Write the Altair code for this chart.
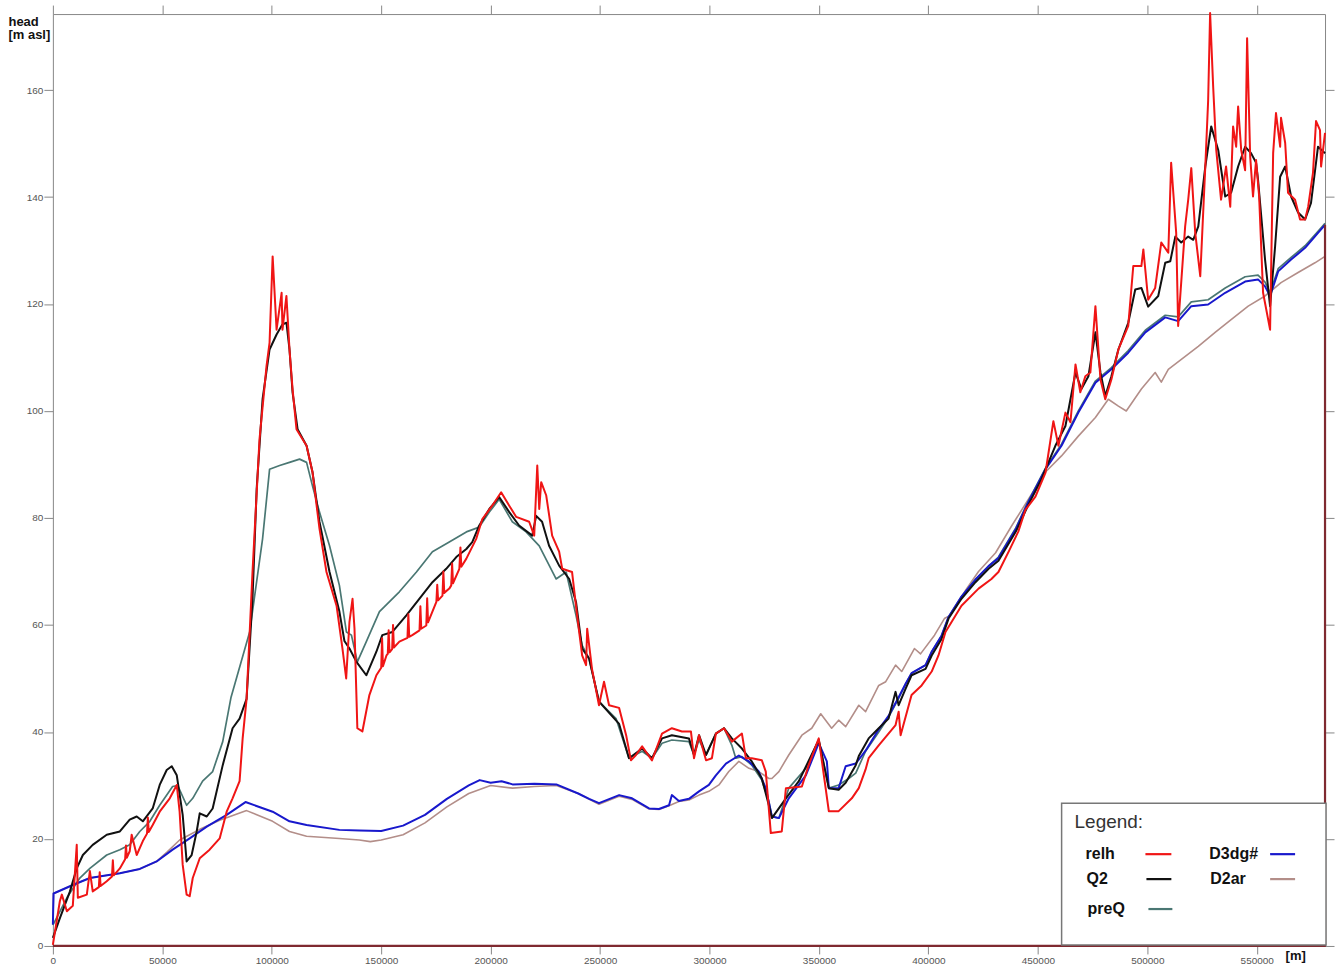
import altair as alt
import pandas as pd

# ---------------- data ----------------
X_TICKS = [0, 50000, 100000, 150000, 200000, 250000, 300000, 350000, 400000, 450000, 500000, 550000]
Y_TICKS = [0, 20, 40, 60, 80, 100, 120, 140, 160]
X_MAX = 581200
Y_MAX = 174.2

RELH_X = [0, 3200, 4100, 6400, 9100, 10900, 11400, 15500, 16900, 18200, 21000, 21400, 21800, 24600, 27000, 27400,
          27800, 30600, 33000, 33400, 33800, 35100, 36000, 38300, 41100, 43000, 43400, 43800, 45600, 48800, 53400,
          56600, 57900, 59300, 61100, 62500, 63900, 67100, 71600, 76200, 79400, 82100, 85300, 86700, 88500, 91200,
          94400, 97600, 99000, 100400, 102200, 104500, 104900, 106700, 108100, 109500, 111300, 115900, 118600,
          121800, 125000, 129600, 132300, 134000, 135500, 136900, 137800, 139100, 141400, 144600, 147800, 150000,
          150400, 150800, 152400, 153000, 153400, 153800, 155000, 155400, 155800, 158300, 162000, 162400, 162800,
          164200, 167500, 167900, 168300, 170600, 171000, 171400, 175200, 175600, 176000, 178000, 178400, 178800,
          181100, 182000, 182400, 182800, 185700, 186200, 186600, 188900, 193400, 196200, 200700, 204800,
          208500, 211700, 217600, 219900, 221300, 222200, 223100, 225400, 228100, 231300, 232700, 237200, 239500,
          241800, 243600, 244100, 246300, 249500, 251800, 254100, 258700, 261900, 264100, 266400, 269200, 273700,
          278300, 282800, 287400, 291500, 292900, 295200, 298400, 301100, 302900, 306600, 310200, 314800, 316600,
          319300, 323900, 325700, 328000, 333000, 334900, 342200, 345300, 349900, 354500, 359000, 365000, 368200,
          371300, 372700, 377300, 385000, 386400, 387300, 392300, 396900, 401500, 404600, 407800, 415100, 422900,
          428800, 432000, 437000, 441100, 444300, 448900, 453500, 457100, 459400, 462600, 464900, 467200, 469400,
          471700, 474000, 476300, 478600, 480800, 483600, 486800, 491300, 493600, 497300, 498200, 500400, 503600,
          506400, 509600, 510900, 513200, 514100, 517300, 518700, 520100, 521900, 524200, 526500, 527800, 528700,
          530100, 531500, 533700, 536000, 537900, 539200, 540600, 541500, 542900, 544700, 545600, 547000, 548300,
          549700, 551100, 552900, 556100, 557500, 558800, 560700, 561100, 563000, 564300, 567500, 569800, 572100,
          573500, 575700, 577100, 578900, 579400, 581200]
RELH_Y = [0.2, 8.4, 9.6, 6.5, 7.5, 18.9, 9.0, 9.6, 14.0, 10.2, 11.0, 13.8, 11.2, 12.1, 13.0, 16.0,
          13.2, 14.5, 16.2, 18.8, 16.5, 17.7, 20.8, 17.0, 19.6, 21.0, 24.0, 21.3, 22.6, 25.1, 27.6,
          30.1, 25.1, 15.2, 9.6, 9.3, 12.7, 16.4, 18.0, 20.1, 25.1, 27.6, 30.8, 38.8, 46.2, 69.9,
          94.7, 108.4, 112.8, 128.9, 115.2, 122.1, 115.2, 121.5, 111.5, 104.1, 96.6, 93.5, 88.6,
          78.0, 69.9, 63.6, 55.6, 50.0, 60.6, 64.9, 59.3, 40.7, 40.1, 46.9, 50.6, 52.0,
          57.5, 52.3, 54.3, 54.6, 59.0, 54.9, 55.5, 60.0, 55.8, 56.9, 57.6, 62.0, 57.8,
          58.1, 59.0, 63.5, 59.3, 59.9, 65.0, 60.5, 64.3, 67.5, 64.6, 65.5, 70.0, 66.0,
          66.8, 67.4, 71.5, 67.8, 70.5, 74.5, 70.9, 72.4, 76.1, 79.8, 82.3, 84.8,
          82.3, 80.2, 79.3, 76.7, 89.8, 81.7, 86.7, 84.2, 76.7, 73.7, 70.5, 69.9, 61.8,
          54.3, 52.5, 59.3, 51.8, 45.0, 49.4, 45.0, 44.5, 39.4, 34.7, 35.7, 37.3, 34.7,
          39.7, 40.7, 40.1, 40.1, 35.1, 39.4, 34.7, 35.1, 39.7, 40.7, 38.2, 39.7, 35.1,
          35.1, 34.7, 32.6, 21.1, 21.4, 29.5, 29.8, 33.8, 38.8, 25.2, 25.2, 27.6, 29.5,
          33.0, 35.1, 37.5, 41.3, 43.8, 39.4, 46.9, 48.7, 51.3, 54.3, 58.7, 63.6, 66.8,
          68.6, 69.9, 74.0, 77.5, 81.5, 84.0, 88.5, 98.1, 93.5, 99.7, 97.9, 108.7, 103.5,
          106.5, 107.2, 119.6, 105.9, 102.2, 105.9, 111.5, 115.9, 127.1, 127.1, 130.2, 120.8, 123.0,
          131.5, 129.6, 146.4, 133.3, 115.9, 134.5, 139.5, 145.4, 133.3, 125.2, 145.7, 158.0, 174.4,
          160.6, 148.8, 139.5, 145.7, 138.2, 153.2, 149.4, 156.9, 148.8, 145.0, 169.7, 147.6, 140.1,
          146.9, 140.1, 122.1, 115.2, 148.2, 155.7, 149.4, 154.8, 150.1, 140.8, 139.5, 135.8, 135.8,
          138.2, 144.5, 154.2, 152.5, 145.7, 152.0]

Q2_X = [0, 3200, 7800, 10900, 13700, 18200, 24600, 30600, 35100, 38300, 41100, 45600, 48800, 52000, 54300,
        56600, 59300, 61100, 63400, 65700, 67100, 70300, 73000, 77600, 82100, 85300, 88500, 91200, 93100,
        95800, 99000, 102200, 104900, 106700, 108100, 109500, 111800, 115900, 118600, 121800, 126400, 130900,
        133200, 135500, 138700, 143200, 147800, 150500, 155100, 161500, 167400, 173400, 179700, 184300, 188900,
        191600, 194800, 199400, 203900, 208500, 213000, 219000, 220800, 223500, 226700, 231300, 235900, 239000,
        241800, 245000, 249500, 258700, 263200, 269200, 273700, 278300, 282800, 290600, 292900, 295200, 298400,
        302900, 306600, 310200, 314800, 319300, 323900, 327100, 328500, 334900, 340800, 349900, 354500, 359000,
        362200, 366800, 368200, 372700, 377300, 381800, 385000, 386400, 389600, 392300, 398700, 401500, 406000,
        409200, 415100, 421500, 427500, 432000, 440000, 445700, 451600, 458000, 462600, 467200, 469900, 473100,
        476300, 478600, 480800, 483600, 486800, 491300, 494500, 497300, 500400, 505000, 508200, 510500, 512800,
        515500, 518700, 521000, 523300, 526500, 529200, 532400, 535600, 538300, 541500, 544700, 547400, 549700,
        550600, 553800, 556100, 558400, 560700, 563000, 565700, 568900, 572100, 574800, 578000, 581200]
Q2_Y = [1.5, 5.2, 10.2, 14.5, 17.0, 18.9, 20.8, 21.4, 23.6, 24.2, 23.3, 25.7, 30.1, 32.9, 33.6,
        31.9, 24.5, 15.8, 17.0, 21.4, 24.8, 24.2, 25.7, 33.8, 40.7, 42.5, 46.2, 64.9, 85.4,
        102.2, 111.5, 114.3, 116.2, 116.5, 111.5, 103.5, 96.6, 93.5, 88.6, 79.3, 69.9, 62.5,
        57.0, 55.6, 53.1, 50.6, 55.0, 58.1, 58.7, 61.8, 64.9, 68.0, 70.5, 72.7, 74.2,
        75.5, 78.6, 81.7, 83.9, 81.1, 78.6, 76.7, 80.4, 79.3, 74.8, 71.1, 68.6, 64.3,
        55.6, 53.7, 45.7, 41.5, 35.1, 36.9, 35.1, 38.8, 39.4, 38.8, 35.7, 39.4, 35.7,
        39.7, 40.7, 38.8, 36.9, 34.5, 31.3, 26.3, 23.9, 27.6, 30.8, 38.5, 29.5, 29.2,
        30.5, 33.8, 35.5, 38.8, 40.7, 42.5, 47.5, 45.0, 48.1, 50.6, 51.8, 54.3, 57.4,
        61.2, 64.9, 68.0, 70.5, 72.0, 77.5, 82.5, 87.2, 93.5, 97.2, 107.2, 104.1, 106.5,
        114.7, 107.2, 102.8, 106.5, 111.5, 116.5, 122.7, 123.0, 119.5, 121.5, 127.7, 128.0, 132.6,
        131.5, 132.6, 132.0, 134.5, 145.7, 153.2, 148.8, 140.1, 140.8, 145.7, 149.4, 148.2, 146.4,
        143.2, 128.3, 119.6, 130.8, 143.8, 145.7, 140.1, 137.1, 135.8, 138.9, 149.4, 148.2]

PREQ_X = [0, 6400, 12300, 16900, 24600, 30600, 35100, 39700, 44300, 48800, 54700, 57000, 61100, 63900, 68400,
          73000, 77600, 81400, 89900, 95800, 99000, 103600, 108100, 112700, 115900, 118600, 121800, 126400,
          130900, 134100, 136400, 139100, 143200, 149200, 158300, 166100, 173400, 181100, 188900, 194800, 199400,
          203900, 209900, 216200, 222200, 229900, 234500, 239000, 241800, 245000, 249500, 257300, 263200, 269200,
          273700, 278300, 282800, 290600, 292900, 295200, 298400, 302900, 306600, 310200, 312000, 314800, 319300,
          323900, 327100, 328500, 331700, 336200, 344000, 349900, 354500, 359000, 363600, 366800, 371300, 377300,
          381800, 386400, 389600, 392300, 398700, 401500, 406000, 409200, 415100, 421500, 427500, 432000, 440000,
          445700, 453500, 460800, 468500, 476300, 483600, 491300, 499100, 508200, 514100, 520100, 527800, 535600,
          544700, 550600, 553800, 556100, 559800, 565700, 572100, 578000, 581200]
PREQ_Y = [3.9, 9.0, 12.7, 14.5, 17.0, 18.0, 18.9, 21.4, 23.3, 26.3, 29.8, 30.0, 26.3, 27.6, 30.8,
          32.6, 38.2, 46.5, 58.7, 76.1, 89.1, 89.8, 90.4, 91.0, 90.4, 86.0, 81.1, 74.8,
          67.4, 58.7, 58.1, 53.1, 56.9, 62.5, 66.2, 69.9, 73.7, 75.5, 77.4, 78.3, 81.1,
          83.5, 79.3, 77.4, 74.8, 68.6, 69.9, 61.8, 56.2, 53.7, 45.7, 42.5, 35.1, 36.4,
          35.1, 37.9, 38.5, 38.2, 35.7, 38.5, 35.7, 39.7, 40.7, 37.5, 35.1, 35.4, 33.8,
          31.0, 27.0, 24.2, 23.9, 29.5, 33.2, 38.5, 29.5, 30.1, 31.3, 32.3, 36.4, 40.0,
          42.8, 46.3, 49.0, 51.0, 52.5, 55.0, 58.0, 61.5, 65.3, 68.5, 71.0, 72.7, 78.2,
          83.2, 89.3, 93.8, 100.0, 105.6, 108.1, 111.3, 115.1, 117.9, 117.6, 120.4, 120.8, 123.0,
          125.1, 125.4, 124.1, 122.1, 126.6, 128.7, 130.9, 133.6, 135.1]

D3DG_X = [0, 300, 9100, 16900, 30600, 39700, 47400, 54700, 62500, 70300, 79400, 88000, 100400, 108100, 115900,
          130900, 140000, 150000, 160000, 170000, 180000, 190000, 195000, 200000, 205000, 210000, 220000, 230000,
          240000, 245000, 249500, 258700, 264600, 272400, 276900, 281500, 282800, 286000, 290600, 295200, 299700,
          302900, 307500, 313400, 318000, 322500, 325700, 328500, 331700, 336200, 344000, 349900, 353600, 354500,
          359000, 362200, 366800, 371300, 377300, 381800, 386400, 389600, 392300, 398700, 401500, 406000, 409200,
          415100, 421500, 427500, 432000, 440000, 445700, 453500, 460800, 468500, 476300, 483600, 491300, 499100,
          508200, 514100, 520100, 527800, 535600, 544700, 550600, 553800, 556100, 559800, 565700, 572100, 578000,
          581200]
D3DG_Y = [4.0, 9.8, 11.4, 12.7, 13.6, 14.4, 15.8, 18.0, 20.1, 22.3, 24.5, 26.9, 25.1, 23.3, 22.6,
          21.7, 21.6, 21.5, 22.5, 24.5, 27.5, 30.0, 31.0, 30.5, 30.8, 30.2, 30.3, 30.2,
          28.5, 27.5, 26.7, 28.2, 27.6, 25.7, 25.6, 26.3, 28.2, 27.1, 27.5, 28.9, 30.1,
          31.9, 34.1, 35.6, 34.5, 32.6, 29.5, 24.2, 23.9, 27.6, 31.9, 37.9, 34.5, 29.5,
          29.5, 33.6, 34.1, 36.5, 40.5, 43.0, 46.5, 49.0, 51.0, 52.5, 55.0, 58.0, 61.5,
          65.3, 68.5, 71.0, 72.5, 78.0, 83.0, 89.1, 93.5, 99.7, 105.3, 107.8, 110.9, 114.7,
          117.5, 116.8, 119.6, 119.9, 122.1, 124.2, 124.6, 123.3, 121.5, 126.1, 128.3, 130.5, 133.3,
          134.8]

D2AR_X = [0, 300, 9100, 16900, 30600, 39700, 47400, 52000, 57900, 62500, 67100, 76200, 88500, 100400, 108100,
          115900, 130900, 140000, 145000, 150000, 160000, 170000, 180000, 190000, 200000, 210000, 220000, 230000,
          240000, 249500, 258700, 264600, 272400, 276900, 281500, 286000, 290600, 295200, 299700, 304300, 308800,
          313400, 318000, 322500, 327100, 328500, 331700, 336200, 342200, 346700, 350800, 355800, 359000, 362200,
          368200, 371300, 377300, 380500, 385000, 387800, 393600, 396400, 402800, 407300, 410000, 417000, 422900,
          430700, 438000, 445700, 453500, 460800, 468500, 476300, 482200, 486800, 490400, 497300, 503600, 506400,
          509600, 523300, 531000, 538300, 546100, 553800, 561100, 568900, 576600, 581200]
D2AR_Y = [4.0, 9.8, 11.4, 12.7, 13.6, 14.4, 15.8, 17.5, 19.8, 20.8, 21.8, 23.5, 25.3, 23.3, 21.4,
          20.5, 20.1, 19.8, 19.5, 19.8, 20.8, 23.0, 26.0, 28.5, 30.0, 29.5, 29.8, 30.0,
          28.5, 26.5, 28.0, 27.4, 25.6, 25.5, 26.2, 27.0, 27.3, 28.2, 28.9, 30.1, 32.6,
          34.5, 33.2, 32.6, 31.3, 31.3, 32.6, 35.7, 39.4, 40.7, 43.4, 40.7, 42.2, 41.0,
          45.0, 43.8, 48.7, 49.4, 52.5, 51.3, 55.6, 54.6, 58.1, 61.2, 61.8, 66.5, 70.0,
          73.5, 78.5, 83.5, 88.6, 91.6, 95.3, 98.8, 102.2, 100.9, 100.0, 104.1, 107.2, 105.4,
          107.8, 112.1, 114.7, 117.1, 119.6, 121.5, 124.0, 125.9, 127.7, 128.9]

# closing outline of the section (right edge down to 0, then along the base)
FRAME_X = [X_MAX, X_MAX, 0]
FRAME_Y = [134.8, 0, 0]

SERIES = ["relh", "Q2", "preQ", "D3dg#", "D2ar"]
COLORS = {"relh": "#F01515", "Q2": "#111111", "preQ": "#4A7773", "D3dg#": "#1818CC", "D2ar": "#B38E89"}
WIDTHS = {"relh": 2.0, "Q2": 2.0, "preQ": 1.7, "D3dg#": 2.0, "D2ar": 1.6}
FONT = "Liberation Sans"

# ---------------- chart ----------------
xscale = alt.Scale(domain=[0, X_MAX], nice=False, zero=False)
yscale = alt.Scale(domain=[0, Y_MAX], nice=False, zero=False)


def df_of(xs, ys):
    n = min(len(xs), len(ys))
    return pd.DataFrame({"x": xs[:n], "y": ys[:n], "i": list(range(n))})


def line_layer(xs, ys, color, width, xaxis=None, yaxis=None):
    return alt.Chart(df_of(xs, ys)).mark_line(
        color=color, strokeWidth=width, strokeJoin="round"
    ).encode(
        x=alt.X("x:Q", scale=xscale, axis=xaxis),
        y=alt.Y("y:Q", scale=yscale, axis=yaxis),
        order=alt.Order("i:Q"),
    )


bottom_axis = alt.Axis(
    orient="bottom", values=X_TICKS, format="d", grid=False,
    labelFont=FONT, labelFontSize=10, labelColor="#555555", labelPadding=2, labelFlush=False,
    tickSize=8, tickColor="#888888", domainColor="#888888",
    title="[m]", titleFont=FONT, titleFontSize=13, titleFontWeight="bold", titleColor="#111111",
    titleX=1235, titleY=4, titleAlign="left", titleBaseline="top",
)
left_axis = alt.Axis(
    orient="left", values=Y_TICKS, grid=False,
    labelFont=FONT, labelFontSize=10, labelColor="#555555", labelPadding=1,
    tickSize=9, tickColor="#888888", domainColor="#888888",
    title=["head", "[m asl]"], titleFont=FONT, titleFontSize=13, titleFontWeight="bold",
    titleColor="#111111", titleAngle=0, titleAlign="left", titleBaseline="top",
    titleX=-45, titleY=1, titleLineHeight=14,
)
top_axis = alt.Axis(orient="top", values=X_TICKS, labels=False, grid=False, title=None,
                    tickSize=9, tickColor="#888888", domainColor="#888888")
right_axis = alt.Axis(orient="right", values=Y_TICKS, labels=False, grid=False, title=None,
                      tickSize=9, tickColor="#888888", domainColor="#888888")

l_d2ar = line_layer(D2AR_X, D2AR_Y, COLORS["D2ar"], WIDTHS["D2ar"], bottom_axis, left_axis)
l_preq = line_layer(PREQ_X, PREQ_Y, COLORS["preQ"], WIDTHS["preQ"])
l_d3 = line_layer(D3DG_X, D3DG_Y, COLORS["D3dg#"], WIDTHS["D3dg#"])
l_q2 = line_layer(Q2_X, Q2_Y, COLORS["Q2"], WIDTHS["Q2"])
l_relh = line_layer(RELH_X, RELH_Y, COLORS["relh"], WIDTHS["relh"])
l_frame = line_layer(FRAME_X, FRAME_Y, "#7F2A30", 2.2, top_axis, right_axis)

# ---------------- hand-built legend box ----------------
one = pd.DataFrame({"k": [0]})
legend_box = alt.Chart(one).mark_rect(fill="white", stroke="#777777", strokeWidth=1.5).encode(
    x=alt.value(1011), x2=alt.value(1276), y=alt.value(791), y2=alt.value(933)
)
legend_title = alt.Chart(one).mark_text(
    align="left", baseline="middle", font=FONT, fontSize=19, color="#333333"
).encode(x=alt.value(1024), y=alt.value(810), text=alt.value("Legend:"))

# (label x, sample start, sample end, row y) for each entry
LEG_POS = {
    "relh": (1035, 1095, 1121, 842),
    "Q2": (1036, 1096, 1121, 867),
    "preQ": (1037, 1098, 1122, 897),
    "D3dg#": (1159, 1220, 1245, 842),
    "D2ar": (1160, 1220, 1245, 867),
}
legend_layers = [legend_box, legend_title]
for name in SERIES:
    lx, sx0, sx1, ly = LEG_POS[name]
    legend_layers.append(
        alt.Chart(one).mark_text(
            align="left", baseline="middle", font=FONT, fontSize=16, fontWeight="bold", color="#111111"
        ).encode(x=alt.value(lx), y=alt.value(ly), text=alt.value(name))
    )
    legend_layers.append(
        alt.Chart(one).mark_rule(color=COLORS[name], strokeWidth=2.2).encode(
            x=alt.value(sx0), x2=alt.value(sx1), y=alt.value(ly)
        )
    )

chart = alt.layer(
    l_d2ar, l_preq, l_d3, l_q2, l_relh, l_frame, *legend_layers
).resolve_axis(
    x="independent", y="independent"
).properties(
    width=1275, height=934,
    padding={"left": 8, "top": 3, "right": 0, "bottom": 0},
    background="white",
).configure_view(stroke=None)

chart.save("out.html", embed_options={"renderer": "svg", "actions": False})
